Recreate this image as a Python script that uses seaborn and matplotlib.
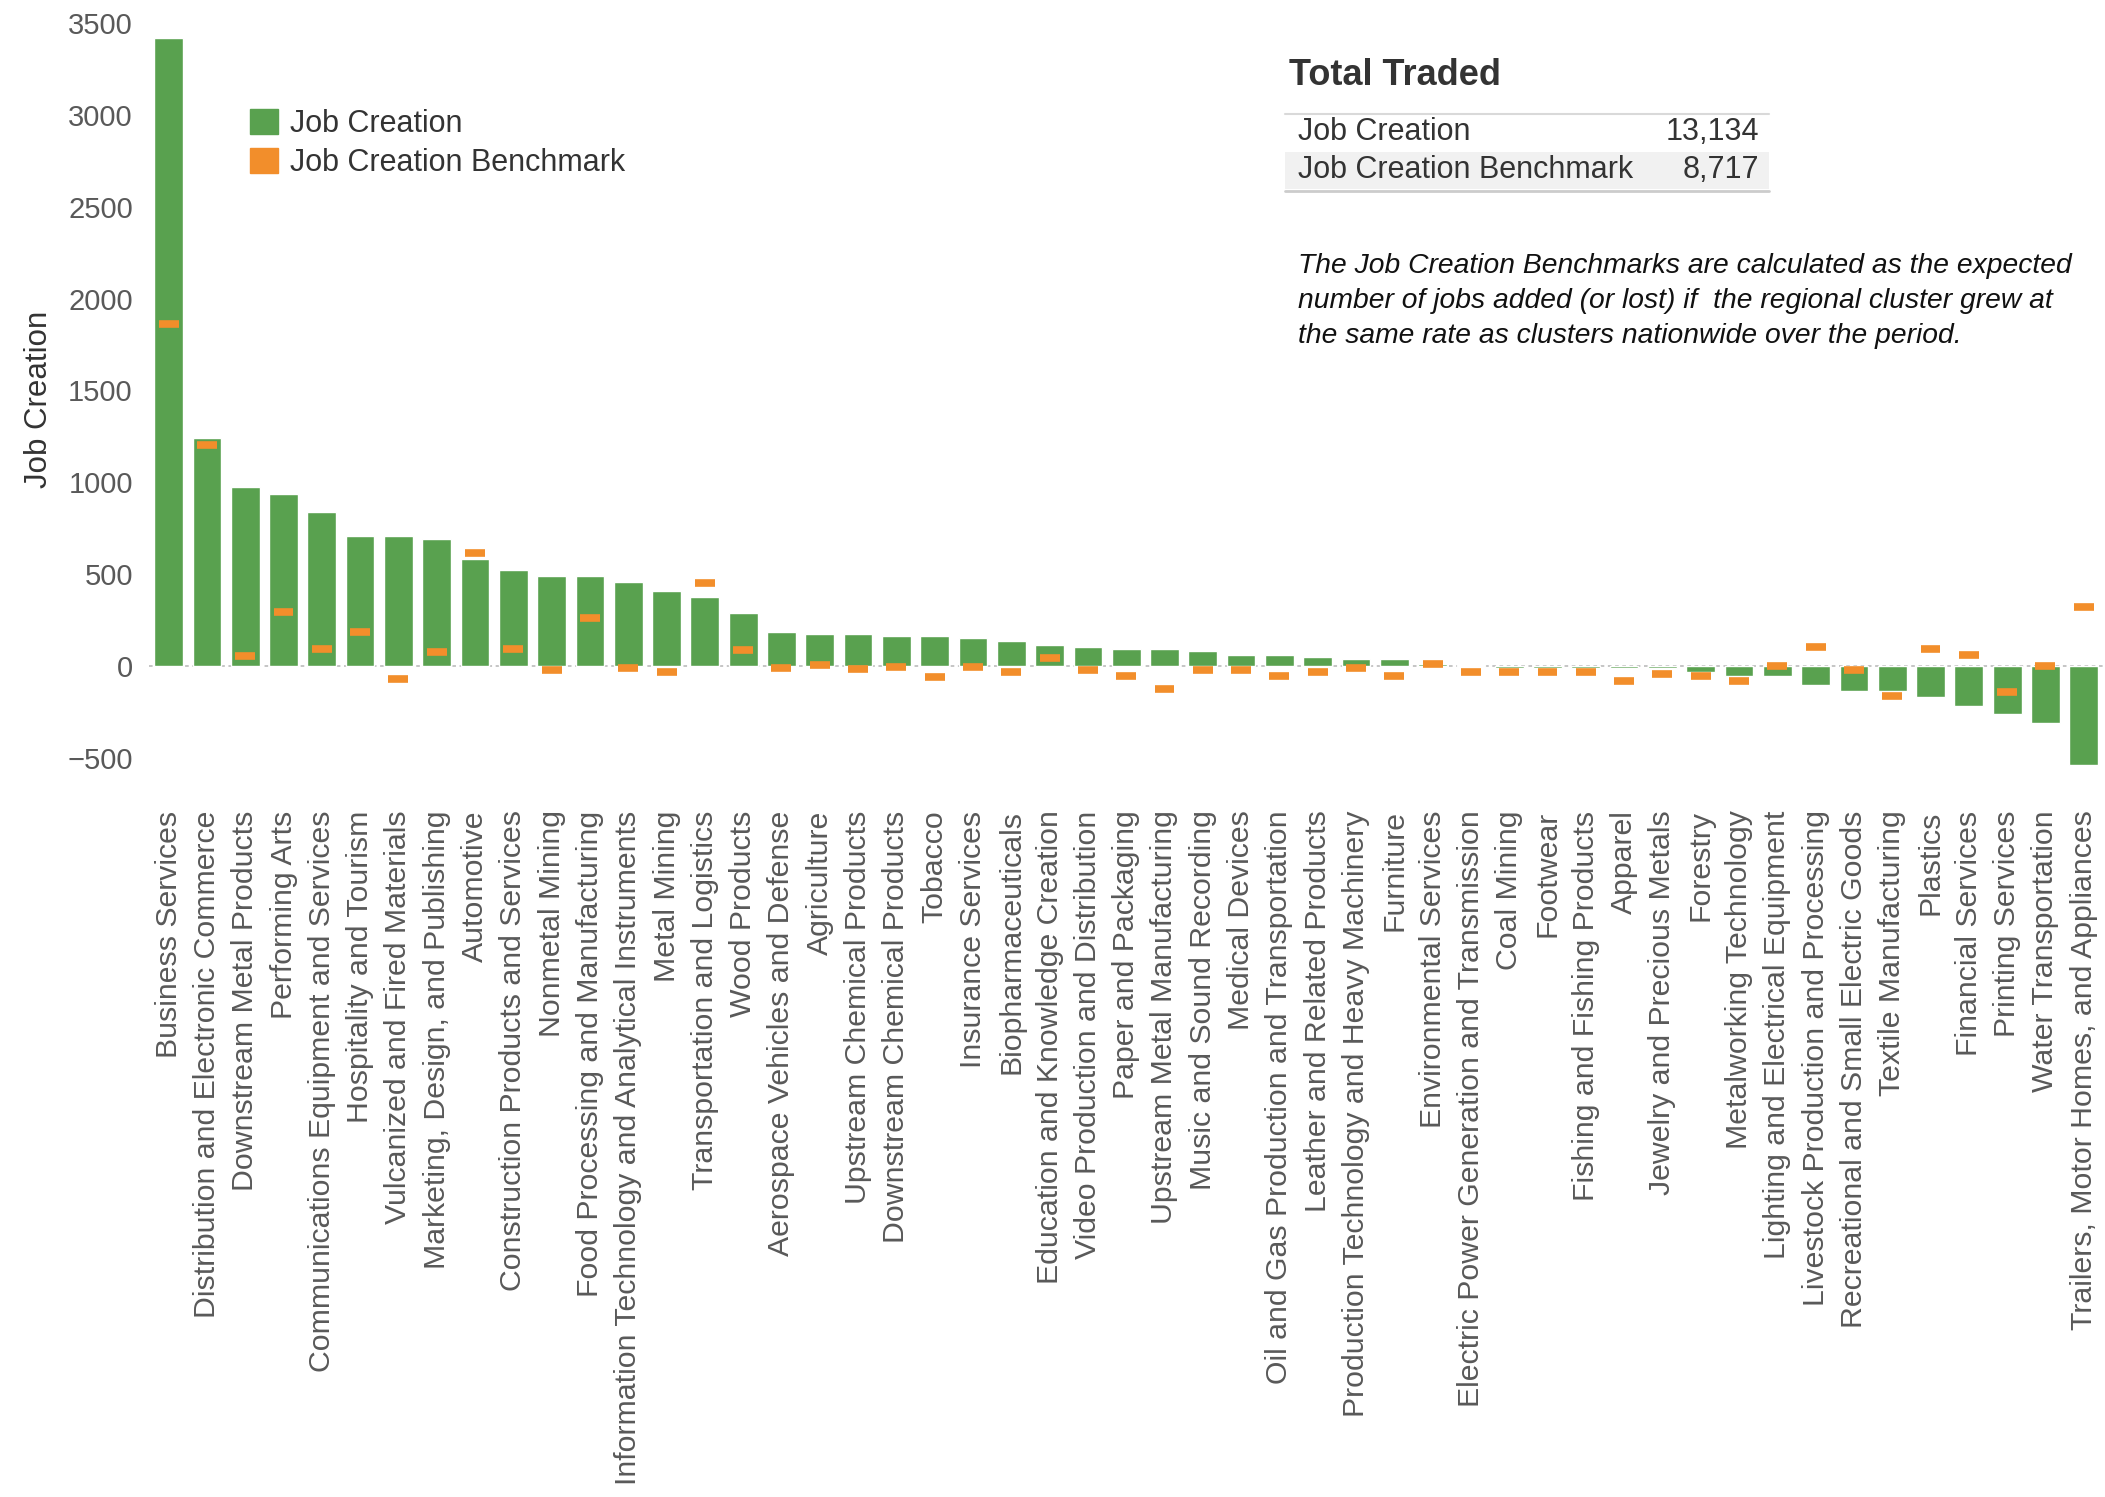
import numpy as np
import pandas as pd
import matplotlib.pyplot as plt
import seaborn as sns
from matplotlib.patches import Patch, Rectangle
from matplotlib.lines import Line2D

# Cluster data
clusters = [
    "Business Services", "Distribution and Electronic Commerce", "Downstream Metal Products",
    "Performing Arts", "Communications Equipment and Services", "Hospitality and Tourism",
    "Vulcanized and Fired Materials", "Marketing, Design, and Publishing", "Automotive",
    "Construction Products and Services", "Nonmetal Mining", "Food Processing and Manufacturing",
    "Information Technology and Analytical Instruments", "Metal Mining", "Transportation and Logistics",
    "Wood Products", "Aerospace Vehicles and Defense", "Agriculture", "Upstream Chemical Products",
    "Downstream Chemical Products", "Tobacco", "Insurance Services", "Biopharmaceuticals",
    "Education and Knowledge Creation", "Video Production and Distribution", "Paper and Packaging",
    "Upstream Metal Manufacturing", "Music and Sound Recording", "Medical Devices",
    "Oil and Gas Production and Transportation", "Leather and Related Products",
    "Production Technology and Heavy Machinery", "Furniture", "Environmental Services",
    "Electric Power Generation and Transmission", "Coal Mining", "Footwear",
    "Fishing and Fishing Products", "Apparel", "Jewelry and Precious Metals", "Forestry",
    "Metalworking Technology", "Lighting and Electrical Equipment", "Livestock Production and Processing",
    "Recreational and Small Electric Goods", "Textile Manufacturing", "Plastics", "Financial Services",
    "Printing Services", "Water Transportation", "Trailers, Motor Homes, and Appliances",
]
job_creation = [
    3420, 1244, 972, 939, 836, 708, 708, 692, 583, 522, 489, 489, 458, 408, 375,
    289, 186, 177, 177, 166, 166, 155, 134, 113, 102, 91, 91, 80, 59, 59,
    50, 39, 39, 9, 5, -8, -8, -8, -8, -8, -32, -54, -54, -105,
    -136, -136, -166, -218, -259, -311, -540,
]
benchmark = [
    1861, 1203, 54, 292, 95, 187, -72, 75, 617, 95, -19, 260, -8, -30, 450,
    87, -9, 3, -18, -7, -59, -7, -30, 43, -19, -52, -123, -20, -20, -52,
    -30, -9, -52, 11, -30, -30, -30, -30, -82, -41, -52, -82, 2, 104,
    -20, -164, 93, 62, -143, 2, 321,
]

total_labels = ["Job Creation", "Job Creation Benchmark"]
total_values = ["13,134", "8,717"]
note_lines = [
    "The Job Creation Benchmarks are calculated as the expected",
    "number of jobs added (or lost) if  the regional cluster grew at",
    "the same rate as clusters nationwide over the period.",
]

GREEN = "#59A14F"
ORANGE = "#F28E2B"
TEXT = "#333333"
TICK = "#595959"

sns.set_style("white")
plt.rcParams["font.family"] = ["Liberation Sans", "DejaVu Sans"]

df = pd.DataFrame({"Cluster": clusters, "Job Creation": job_creation,
                   "Benchmark": benchmark})

fig = plt.figure(figsize=(21.05, 14.97), dpi=100)
ax = fig.add_axes([0.071, 0.479, 0.928, 0.5105])

# zero line behind the bars
ax.axhline(0, color="#c0c0c0", ls=(0, (2, 2)), lw=1.3, zorder=0)

sns.barplot(data=df, x="Cluster", y="Job Creation", color=GREEN, saturation=1,
            width=0.75, ax=ax, zorder=2)

# benchmark dashes
xs = np.arange(len(clusters))
ax.hlines(df["Benchmark"], xs - 0.26, xs + 0.26, color=ORANGE, lw=5.5, zorder=3)

ax.set_xlim(-0.5, len(clusters) - 0.5)
ax.set_ylim(-620, 3540)
ax.set_yticks(np.arange(-500, 3501, 500))
ax.tick_params(axis="y", labelsize=21, labelcolor=TICK, length=6, color="#e3e3e3", pad=6)
ax.set_xticks(xs)
ax.set_xticklabels(clusters, rotation=90, fontsize=21.8, color=TICK)
ax.set_xticks(np.arange(-0.5, len(clusters)), minor=True)
ax.tick_params(axis="x", which="major", length=0, pad=22)
ax.tick_params(axis="x", which="minor", length=14, color="#ececec", width=1.5)
ax.set_xlabel("")
ax.set_ylabel("")
sns.despine(ax=ax, left=True, bottom=True)

fig.text(0.0185, 0.7335, "Job Creation", rotation=90, ha="center", va="center",
         fontsize=22.5, color=TEXT)

handles = [Patch(color=GREEN), Patch(color=ORANGE)]
ax.legend(handles, ["Job Creation", "Job Creation Benchmark"], loc="upper left",
          bbox_to_anchor=(0.119, 0.9275), bbox_transform=fig.transFigure,
          frameon=False, fontsize=22, handlelength=0.9, handleheight=0.9,
          handletextpad=0.4, labelspacing=0.3, borderpad=0, borderaxespad=0,
          labelcolor=TEXT)

# Total Traded summary table
fig.text(0.6125, 0.9493, "Total Traded", fontsize=26, fontweight="bold",
         color=TEXT, va="center")
fig.add_artist(Rectangle((0.6105, 0.8735), 0.2299, 0.025, transform=fig.transFigure,
                         facecolor="#f1f1f1", edgecolor="none"))
fig.add_artist(Line2D([0.6105, 0.8404], [0.9238, 0.9238], transform=fig.transFigure,
                      color="#d9d9d9", lw=1.5))
fig.add_artist(Line2D([0.6105, 0.8404], [0.8724, 0.8724], transform=fig.transFigure,
                      color="#cccccc", lw=2))
for i, (lab, val) in enumerate(zip(total_labels, total_values)):
    y = 0.9118 - i * 0.0254
    fig.text(0.6165, y, lab, fontsize=22, color=TEXT, va="center")
    fig.text(0.8356, y, val, fontsize=22, color=TEXT, va="center", ha="right")

for i, line in enumerate(note_lines):
    fig.text(0.6165, 0.8223 - i * 0.0234, line, fontsize=20.3, style="italic",
             color="#111111", va="center")

fig.savefig("out.png", dpi=100)
